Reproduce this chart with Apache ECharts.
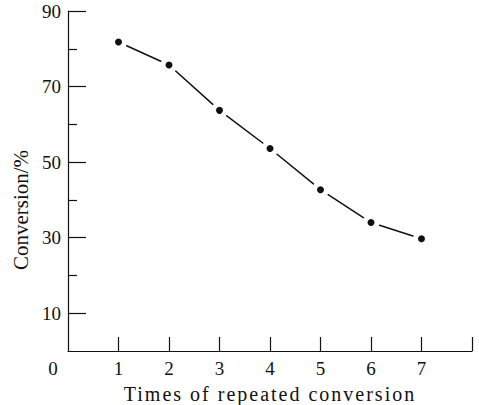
<!DOCTYPE html>
<html>
<head>
<meta charset="utf-8">
<script src="https://cdn.jsdelivr.net/npm/echarts@6/dist/echarts.min.js"></script>
<style>
  html, body { margin: 0; padding: 0; background: #fff; }
  #main { width: 479px; height: 405px; }
</style>
</head>
<body>
<div id="main"></div>
<script>
// 数据
var times = [1, 2, 3, 4, 5, 6, 7];
var conversion = [81.8, 75.7, 63.7, 53.6, 42.7, 34.0, 29.7];
var xLabelValues = [0, 1, 2, 3, 4, 5, 6, 7];
var xTickValues = [1, 2, 3, 4, 5, 6, 7, 8];
var yMajorTicks = [10, 30, 50, 70, 90];
var yMinorTicks = [20, 40, 60, 80];

var xName = 'Times of repeated conversion';
var yName = 'Conversion/%';

var myChart = echarts.init(document.getElementById('main'), null, { renderer: 'svg' });

var font = 'Liberation Serif';
var ink = '#111';

var option = {
    backgroundColor: '#fff',
    animation: false,
    grid: {
        left: 68,
        right: 7,
        top: 11,
        bottom: 54,
        containLabel: false,
        outerBoundsMode: 'none'
    },
    xAxis: {
        type: 'value',
        min: 0,
        max: 8,
        interval: 1,
        name: xName,
        nameLocation: 'middle',
        nameGap: 33,
        nameTextStyle: { fontFamily: font, fontSize: 20, color: ink },
        axisLine: { lineStyle: { color: ink, width: 1.2 } },
        axisTick: {
            inside: true,
            length: 14,
            customValues: xTickValues,
            lineStyle: { color: ink, width: 1.2 }
        },
        axisLabel: {
            customValues: xLabelValues,
            margin: 8,
            fontFamily: font,
            fontSize: 19,
            color: ink,
            formatter: function (v) {
                return v === 0 ? '{o|0}' : String(v);
            },
            rich: {
                o: { fontFamily: font, fontSize: 19, color: ink, padding: [0, 30, 0, 0] }
            }
        },
        splitLine: { show: false }
    },
    yAxis: [
        {
            type: 'value',
            min: 0,
            max: 90,
            name: yName,
            nameLocation: 'middle',
            nameGap: 35,
            nameTextStyle: { fontFamily: font, fontSize: 21, color: ink, padding: [0, 58, 0, 0] },
            axisLine: { show: true, lineStyle: { color: ink, width: 1.2 } },
            axisTick: {
                inside: true,
                length: 18,
                customValues: yMajorTicks,
                lineStyle: { color: ink, width: 1.2 }
            },
            axisLabel: {
                customValues: yMajorTicks,
                margin: 7,
                fontFamily: font,
                fontSize: 19,
                color: ink
            },
            splitLine: { show: false }
        },
        {
            type: 'value',
            min: 0,
            max: 90,
            position: 'left',
            axisLine: { show: false },
            axisTick: {
                inside: true,
                length: 9,
                customValues: yMinorTicks,
                lineStyle: { color: ink, width: 1.2 }
            },
            axisLabel: { show: false },
            splitLine: { show: false }
        }
    ],
    series: [
        {
            name: 'Conversion',
            type: 'line',
            yAxisIndex: 0,
            data: times.map(function (t, i) { return [t, conversion[i]]; }),
            symbol: 'circle',
            symbolSize: 12,
            itemStyle: { color: ink, borderColor: '#fff', borderWidth: 5 },
            lineStyle: { color: ink, width: 1.5 }
        }
    ]
};

myChart.setOption(option, true);

// 原图坐标轴标题字距较宽
function spaceTitles() {
    var texts = document.querySelectorAll('#main text');
    for (var i = 0; i < texts.length; i++) {
        if (texts[i].textContent === xName) {
            texts[i].style.letterSpacing = '2px';
        }
    }
}
spaceTitles();
myChart.on('finished', spaceTitles);
</script>
</body>
</html>
